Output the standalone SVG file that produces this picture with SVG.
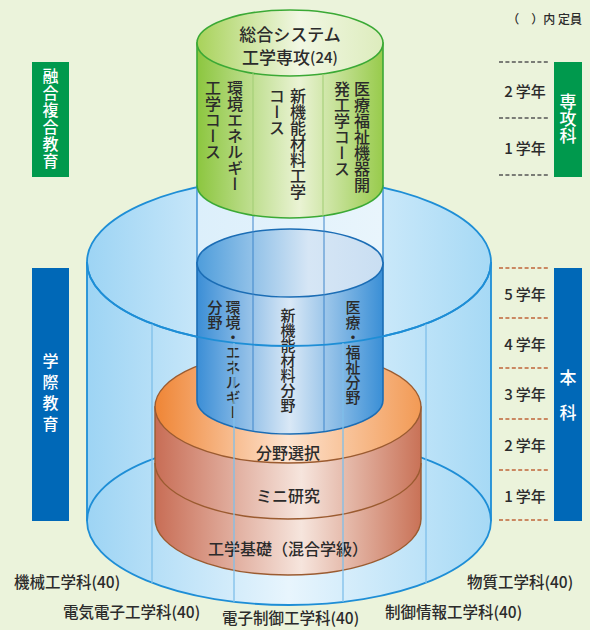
<svg xmlns="http://www.w3.org/2000/svg" width="590" height="630" viewBox="0 0 590 630">
<defs>
<linearGradient id="gBig" x1="0" x2="1" y1="0" y2="0"><stop offset="0" stop-color="#9DD4F4"/><stop offset="0.5" stop-color="#E8F5FD"/><stop offset="1" stop-color="#A6D9F5"/></linearGradient>
<linearGradient id="gGreenSide" x1="0" x2="1"><stop offset="0" stop-color="#8CC63F"/><stop offset="0.55" stop-color="#EAF3D4"/><stop offset="1" stop-color="#98CB4C"/></linearGradient>
<linearGradient id="gGreenTop" x1="0" x2="1"><stop offset="0" stop-color="#A8D25A"/><stop offset="0.55" stop-color="#F1F7E3"/><stop offset="1" stop-color="#DDECBD"/></linearGradient>
<linearGradient id="gBlueSide" x1="0" x2="1"><stop offset="0" stop-color="#3B8ED6"/><stop offset="0.5" stop-color="#D9E8F6"/><stop offset="1" stop-color="#3A8FD6"/></linearGradient>
<linearGradient id="gBlueTop" x1="0" x2="1"><stop offset="0" stop-color="#4E9DDB"/><stop offset="0.6" stop-color="#D6E6F5"/><stop offset="1" stop-color="#C9DEF2"/></linearGradient>
<linearGradient id="gOrSide" x1="0" x2="1"><stop offset="0" stop-color="#C86D55"/><stop offset="0.55" stop-color="#F6E5DD"/><stop offset="1" stop-color="#C97257"/></linearGradient>
<linearGradient id="gOrTop" x1="0" x2="1"><stop offset="0" stop-color="#EF8535"/><stop offset="0.5" stop-color="#FDE3CF"/><stop offset="1" stop-color="#F29A55"/></linearGradient>
<linearGradient id="gCol" x1="0" x2="1"><stop offset="0" stop-color="#DCEFFB"/><stop offset="1" stop-color="#E9F5FC"/></linearGradient>
</defs>
<style>
text{font-family:"Noto Sans CJK JP","Noto Sans",sans-serif;fill:#2B2B2B;font-weight:500}
.v{writing-mode:vertical-rl}
.c{text-anchor:middle;dominant-baseline:central}
.w{fill:#FFFFFF}
.bigline{fill:none;stroke:#1E8ED6;stroke-width:1.8}
.dept{stroke:#7FBFEA;stroke-width:1.3}
.dg{stroke:#555555;stroke-width:1.3;stroke-dasharray:4 2.4}
.db{stroke:#C0653A;stroke-width:1.3;stroke-dasharray:4 2.4}
.yr{font-size:15px}
.lb{font-size:15.5px;dominant-baseline:central}
</style>
<rect width="590" height="630" fill="#EBF3DB"/>

<g id="big-cylinder">
<path d="M87,262 A202,84 0 0 1 491,262 L491,521 A202,84 0 0 1 87,521 Z" fill="url(#gBig)"/>
<ellipse cx="289" cy="262" rx="202" ry="84" class="bigline"/>
<path d="M87,521 A202,84 0 0 1 491,521" class="bigline"/>
<path d="M87,262 L87,521 M491,262 L491,521" class="bigline"/>
</g>

<g id="column">
<rect x="197" y="185" width="186" height="78" fill="url(#gCol)"/>
<path d="M197,185 L197,263 M383,185 L383,263" stroke="#2F86CF" stroke-width="1.3"/>
</g>

<g id="green-cylinder">
<path d="M197,43 L197,185 A93,33 0 0 0 383,185 L383,43 Z" fill="url(#gGreenSide)" stroke="#3BA935" stroke-width="1.6"/>
<ellipse cx="290" cy="43" rx="93" ry="33" fill="url(#gGreenTop)" stroke="#3BA935" stroke-width="1.6"/>
<path d="M253,73 L253,215 M323,74 L323,216" stroke="#9FCD72" stroke-width="1"/>
<text x="290" y="33" class="c" font-size="17">総合システム</text>
<text x="290" y="56" class="c" font-size="17">工学専攻<tspan font-size="15">(24)</tspan></text>
<text x="235" y="80" class="v" font-size="16">環境エネルギー</text>
<text x="213" y="80" class="v" font-size="16">工学コース</text>
<text x="298" y="88" class="v" font-size="16">新機能材料工学</text>
<text x="277" y="88" class="v" font-size="16">コース</text>
<text x="362" y="81" class="v" font-size="16">医療福祉機器開</text>
<text x="342" y="81" class="v" font-size="16">発工学コース</text>
</g>

<g id="orange-cylinder">
<path d="M155,407 L155,519 A133,56 0 0 0 421,519 L421,407 Z" fill="url(#gOrSide)" stroke="#9B5B30" stroke-width="1.4"/>
<path d="M155,463 A133,56 0 0 0 421,463" fill="none" stroke="#9B5B30" stroke-width="1.4"/>
<ellipse cx="288" cy="407" rx="133" ry="56" fill="url(#gOrTop)" stroke="#9B5B30" stroke-width="1.4"/>
<text x="288" y="452" class="c" font-size="16">分野選択</text>
<text x="288" y="495" class="c" font-size="16">ミニ研究</text>
<text x="288" y="548" class="c" font-size="16">工学基礎（混合学級）</text>
</g>

<g id="blue-cylinder">
<path d="M197,263 L197,400 A93,34 0 0 0 383,400 L383,263 Z" fill="url(#gBlueSide)" stroke="#1B6DB5" stroke-width="1.6"/>
<ellipse cx="290" cy="263" rx="93" ry="34" fill="url(#gBlueTop)" stroke="#1B6DB5" stroke-width="1.6"/>
<path d="M253,216 L253,431 M324,216 L324,431" stroke="#3F86CB" stroke-width="1"/>
<text x="233" y="300" class="v" font-size="15">環境・エネルギー</text>
<text x="215" y="300" class="v" font-size="15">分野</text>
<text x="288" y="308" class="v" font-size="15">新機能材料分野</text>
<text x="353" y="300" class="v" font-size="15">医療・福祉分野</text>
</g>

<g id="connectors">
<path d="M87,262 A202,84 0 0 0 491,262" class="bigline"/>
<path d="M87,521 A202,84 0 0 0 491,521" class="bigline"/>
<path d="M152,324 L152,583 M234,343 L234,602 M343,343 L343,602 M426,324 L426,583" class="dept"/>
<path d="M499,62 L550,62 M499,118 L550,118 M499,175 L550,175" class="dg"/>
<path d="M499,268 L550,268 M499,318 L550,318 M499,368 L550,368 M499,419 L550,419 M499,470 L550,470 M499,520 L550,520" class="db"/>
</g>

<g id="dept-labels">
<text x="14" y="581" class="lb">機械工学科(40)</text>
<text x="63" y="611" class="lb">電気電子工学科(40)</text>
<text x="222" y="617" class="lb">電子制御工学科(40)</text>
<text x="385" y="611" class="lb">制御情報工学科(40)</text>
<text x="467" y="581" class="lb">物質工学科(40)</text>
</g>

<g id="note"><text x="582" y="18" font-size="12" text-anchor="end" dominant-baseline="central">（　）内 定員</text></g>

<g id="years">
<text x="525" y="90" class="c yr">2<tspan dx="3">学年</tspan></text>
<text x="525" y="147" class="c yr">1<tspan dx="3">学年</tspan></text>
<text x="525" y="293" class="c yr">5<tspan dx="3">学年</tspan></text>
<text x="525" y="343" class="c yr">4<tspan dx="3">学年</tspan></text>
<text x="525" y="393" class="c yr">3<tspan dx="3">学年</tspan></text>
<text x="525" y="444" class="c yr">2<tspan dx="3">学年</tspan></text>
<text x="525" y="495" class="c yr">1<tspan dx="3">学年</tspan></text>
</g>

<g id="box-senkoka">
<rect x="554" y="62" width="28" height="115" fill="#00994D"/>
<text x="568" y="93" class="v w" font-size="17">専攻科</text>
</g>
<g id="box-honka">
<rect x="554" y="268" width="28" height="253" fill="#0068B7"/>
<text x="568" y="369" class="v w" font-size="17" letter-spacing="18">本科</text>
</g>
<g id="box-yugo">
<rect x="32" y="62" width="37" height="115" fill="#00994D"/>
<text x="50.5" y="68" class="v w" font-size="16" letter-spacing="1">融合複合教育</text>
</g>
<g id="box-gakusai">
<rect x="32" y="268" width="37" height="253" fill="#0068B7"/>
<text x="50.5" y="353" class="v w" font-size="16" letter-spacing="5">学際教育</text>
</g>
</svg>
